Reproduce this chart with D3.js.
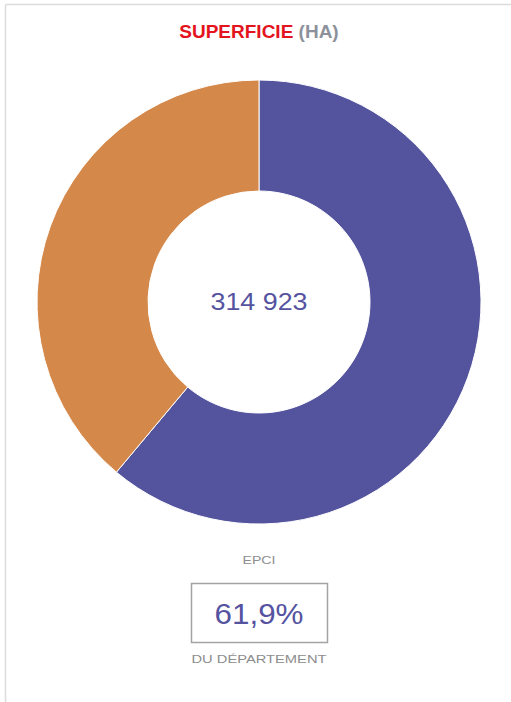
<!DOCTYPE html>
<html>
<head>
<meta charset="utf-8">
<script src="https://cdn.jsdelivr.net/npm/d3@7"></script>
<style>
  body { margin: 0; background: #fff; }
  svg { display: block; font-family: "Liberation Sans", Arial, sans-serif; }
</style>
</head>
<body>
<div id="chart"></div>
<script>
// data
var categories = ["EPCI", "Reste du département"];
var sliceShares = [61.1, 38.9];   // as drawn in the donut
var labelShare = 61.9;            // as printed in the box
var colors = ["#53539e", "#d4884a"];
var surfaceHa = 314923;
var titleMain = "SUPERFICIE";
var titleUnit = "(HA)";

var width = 511, height = 702;

var svg = d3.select("#chart").append("svg")
    .attr("width", width)
    .attr("height", height);

// panel border (top and left only)
svg.append("line")
    .attr("x1", 5.5).attr("y1", 4.5).attr("x2", width).attr("y2", 4.5)
    .attr("stroke", "#dcdcdc").attr("stroke-width", 1.5);
svg.append("line")
    .attr("x1", 5.5).attr("y1", 4.5).attr("x2", 5.5).attr("y2", height)
    .attr("stroke", "#dcdcdc").attr("stroke-width", 1.5);

// title
var title = svg.append("text")
    .attr("x", 259)
    .attr("y", 38)
    .attr("text-anchor", "middle")
    .style("font-size", "19px")
    .style("font-weight", "bold");
title.append("tspan").attr("fill", "#e4141e").text(titleMain);
title.append("tspan").attr("fill", "#8c919b").text(" " + titleUnit);

// donut
var cx = 259, cy = 302, outerR = 222, innerR = 111;

var data = categories.map(function(c, i) { return {name: c, value: sliceShares[i]}; });

var pie = d3.pie()
    .sort(null)
    .value(function(d) { return d.value; });

var arc = d3.arc()
    .innerRadius(innerR)
    .outerRadius(outerR);

var g = svg.append("g")
    .attr("transform", "translate(" + cx + "," + cy + ")");

g.selectAll("path")
    .data(pie(data))
  .enter().append("path")
    .attr("d", arc)
    .attr("fill", function(d, i) { return colors[i]; })
    .attr("stroke", "#fff")
    .attr("stroke-width", 1);

// centre value
var fmt = d3.formatLocale({decimal: ",", thousands: " ", grouping: [3], currency: ["", " €"]});
g.append("text")
    .attr("y", 8)
    .attr("text-anchor", "middle")
    .attr("fill", "#5553a0")
    .attr("textLength", 97)
    .attr("lengthAdjust", "spacingAndGlyphs")
    .style("font-size", "23px")
    .text(fmt.format(",d")(surfaceHa));

// legend below
svg.append("text")
    .attr("x", 259)
    .attr("y", 564)
    .attr("text-anchor", "middle")
    .attr("fill", "#8d8d8d")
    .attr("textLength", 33)
    .attr("lengthAdjust", "spacingAndGlyphs")
    .style("font-size", "11px")
    .text(categories[0]);

svg.append("rect")
    .attr("x", 191.5).attr("y", 583.5)
    .attr("width", 136).attr("height", 59)
    .attr("fill", "none")
    .attr("stroke", "#a3a3a3")
    .attr("stroke-width", 1.5);

svg.append("text")
    .attr("x", 259)
    .attr("y", 624)
    .attr("text-anchor", "middle")
    .attr("fill", "#5553a0")
    .attr("textLength", 89)
    .attr("lengthAdjust", "spacingAndGlyphs")
    .style("font-size", "29px")
    .text(fmt.format(".1f")(labelShare) + "%");

svg.append("text")
    .attr("x", 259)
    .attr("y", 663)
    .attr("text-anchor", "middle")
    .attr("fill", "#8d8d8d")
    .attr("textLength", 135)
    .attr("lengthAdjust", "spacingAndGlyphs")
    .style("font-size", "11.5px")
    .text("DU DÉPARTEMENT");
</script>
</body>
</html>
